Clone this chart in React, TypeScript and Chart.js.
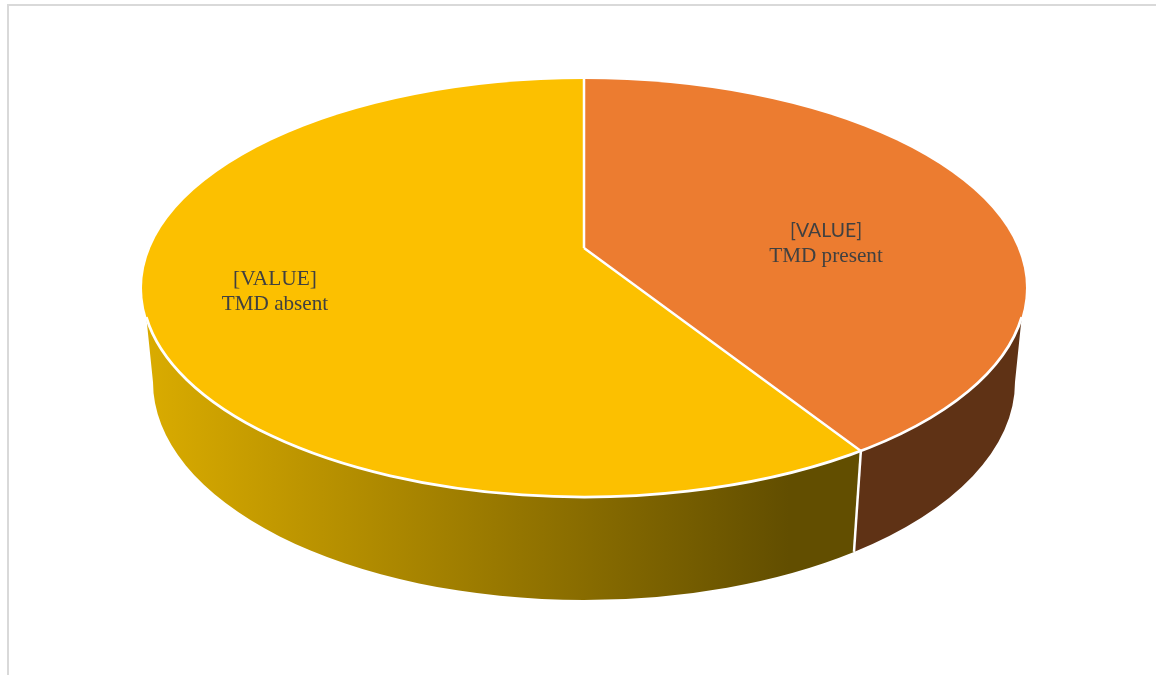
import React, { useEffect, useRef } from "react";
import { Chart, registerables } from "chart.js";

Chart.register(...registerables);

const categories = ["TMD present", "TMD absent"];
const seriesValues = [41, 59];
const valueLabels = ["[VALUE]", "[VALUE]"];
const sliceColors = ["#EC7C30", "#FCC000"];

const TOP = { cx: 584, cy: 288, rx: 442, ry: 209 };
const BOTTOM = { cx: 584, cy: 382, rx: 431, ry: 218 };
const APEX = { x: 584, y: 248 };
const SX = 2.58;
const SY = 1.2;
const LABEL_POS = [
  { x: 826, y: 231 },
  { x: 275, y: 279 },
];

// Point where the ray from the apex at a slice angle meets the rim of the top face
function rimParam(angle: number) {
  const dx = SX * Math.cos(angle);
  const dy = SY * Math.sin(angle);
  const ox = (APEX.x - TOP.cx) / TOP.rx;
  const oy = (APEX.y - TOP.cy) / TOP.ry;
  const ax = dx / TOP.rx;
  const ay = dy / TOP.ry;
  const a = ax * ax + ay * ay;
  const b = 2 * (ox * ax + oy * ay);
  const c = ox * ox + oy * oy - 1;
  const s = (-b + Math.sqrt(b * b - 4 * a * c)) / (2 * a);
  return Math.atan2(oy + ay * s, ox + ax * s);
}

function pt(e: typeof TOP, t: number) {
  return { x: e.cx + e.rx * Math.cos(t), y: e.cy + e.ry * Math.sin(t) };
}

const WALL_RIGHT = (8 * Math.PI) / 180;
const WALL_LEFT = (172 * Math.PI) / 180;

function wall(ctx: CanvasRenderingContext2D, t0: number, t1: number, b0: number, b1: number, fill: any) {
  ctx.beginPath();
  ctx.ellipse(TOP.cx, TOP.cy, TOP.rx, TOP.ry, 0, t0, t1);
  ctx.ellipse(BOTTOM.cx, BOTTOM.cy, BOTTOM.rx, BOTTOM.ry, 0, b1, b0, true);
  ctx.closePath();
  ctx.fillStyle = fill;
  ctx.fill();
}

const pie3d = {
  id: "pie3d",
  beforeDatasetsDraw(chart: any) {
    const ctx: CanvasRenderingContext2D = chart.ctx;
    const arcs = chart.getDatasetMeta(0).data;
    const split = rimParam(arcs[0].endAngle);

    ctx.save();
    wall(ctx, WALL_RIGHT, split, 0, split, "#5F3215");
    const grad = ctx.createLinearGradient(150, 0, 860, 0);
    grad.addColorStop(0, "#D9AB00");
    grad.addColorStop(0.9, "#624E00");
    grad.addColorStop(1, "#624E00");
    wall(ctx, split, WALL_LEFT, split, Math.PI, grad);
    const a = pt(TOP, split);
    const b = pt(BOTTOM, split);
    ctx.strokeStyle = "#FFFFFF";
    ctx.lineWidth = 2.5;
    ctx.beginPath();
    ctx.moveTo(a.x, a.y);
    ctx.lineTo(b.x, b.y);
    ctx.stroke();
    ctx.restore();

    const arc = arcs[0];
    ctx.save();
    ctx.beginPath();
    ctx.ellipse(TOP.cx, TOP.cy, TOP.rx, TOP.ry, 0, 0, Math.PI * 2);
    ctx.clip();
    ctx.translate(APEX.x, APEX.y);
    ctx.scale(SX, SY);
    ctx.translate(-arc.x, -arc.y);
  },
  afterDatasetsDraw(chart: any) {
    const ctx: CanvasRenderingContext2D = chart.ctx;
    ctx.restore();
    const arcs = chart.getDatasetMeta(0).data;

    ctx.save();
    ctx.strokeStyle = "#FFFFFF";
    ctx.lineWidth = 2.8;
    ctx.beginPath();
    ctx.ellipse(TOP.cx, TOP.cy, TOP.rx, TOP.ry, 0, WALL_RIGHT, WALL_LEFT);
    ctx.stroke();
    ctx.lineWidth = 2.5;
    ctx.beginPath();
    for (const angle of [arcs[0].startAngle, arcs[0].endAngle]) {
      const p = pt(TOP, rimParam(angle));
      ctx.moveTo(APEX.x, APEX.y);
      ctx.lineTo(p.x, p.y);
    }
    ctx.stroke();

    ctx.fillStyle = "#404040";
    ctx.textAlign = "center";
    ctx.textBaseline = "middle";
    categories.forEach((name, i) => {
      const pos = LABEL_POS[i];
      ctx.font = i === 0 ? "19.4px Lato" : '21.4px "Liberation Serif"';
      ctx.fillText(valueLabels[i], pos.x, pos.y);
      ctx.font = '21.2px "Liberation Serif"';
      ctx.fillText(name, pos.x, pos.y + 25);
    });
    ctx.restore();
  },
  beforeDraw(chart: any) {
    const ctx: CanvasRenderingContext2D = chart.ctx;
    ctx.save();
    ctx.fillStyle = "#FFFFFF";
    ctx.fillRect(0, 0, chart.width, chart.height);
    ctx.strokeStyle = "#D9D9D9";
    ctx.lineWidth = 2;
    ctx.beginPath();
    ctx.moveTo(8, chart.height);
    ctx.lineTo(8, 5);
    ctx.lineTo(chart.width, 5);
    ctx.stroke();
    ctx.restore();
  },
};

export default function App() {
  const ref = useRef<HTMLCanvasElement>(null);
  useEffect(() => {
    const chart = new Chart(ref.current!, {
      type: "pie",
      data: {
        labels: categories,
        datasets: [
          {
            data: seriesValues,
            backgroundColor: sliceColors,
            borderWidth: 0,
            clip: false,
          } as any,
        ],
      },
      options: {
        responsive: false,
        animation: false,
        devicePixelRatio: 1,
        plugins: { legend: { display: false }, tooltip: { enabled: false } },
      },
      plugins: [pie3d],
    });
    return () => chart.destroy();
  }, []);
  return (
    <canvas
      ref={ref}
      width={1156}
      height={675}
      style={{ position: "absolute", left: 0, top: 0, display: "block" }}
    />
  );
}
